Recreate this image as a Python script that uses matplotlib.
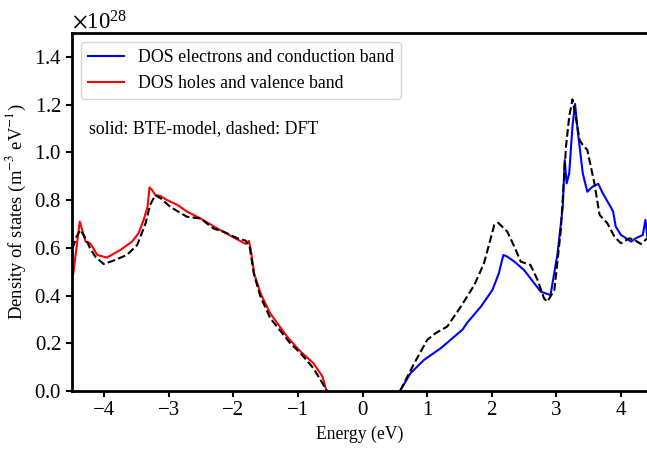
import matplotlib
matplotlib.use("Agg")
import matplotlib.pyplot as plt
from matplotlib.ticker import ScalarFormatter
import numpy as np

plt.rcParams["font.family"] = ["Liberation Serif", "DejaVu Serif"]
plt.rcParams["mathtext.fontset"] = "stix"

# Valence band (holes): BTE model (solid) and DFT (dashed), units of 1e28 m^-3 eV^-1
E_h_bte = [-4.49, -4.38, -4.29, -4.22, -4.17, -4.11, -3.96, -3.75, -3.57, -3.47, -3.39,
           -3.33, -3.30, -3.26, -3.21, -3.13, -3.03, -2.87, -2.72, -2.51, -2.25, -2.00,
           -1.81, -1.76, -1.73, -1.68, -1.58, -1.43, -1.17, -0.96, -0.76, -0.62, -0.56]
D_h_bte = [0.472, 0.710, 0.626, 0.619, 0.598, 0.570, 0.559, 0.591, 0.626, 0.661, 0.717,
           0.772, 0.853, 0.842, 0.821, 0.817, 0.800, 0.780, 0.752, 0.723, 0.681, 0.644,
           0.616, 0.629, 0.591, 0.493, 0.409, 0.325, 0.228, 0.165, 0.116, 0.060, 0.0]

E_h_dft = [-4.49, -4.43, -4.37, -4.29, -4.22, -4.14, -4.01, -3.86, -3.65, -3.49, -3.36,
           -3.29, -3.21, -3.13, -2.98, -2.72, -2.51, -2.31, -2.15, -1.94, -1.81, -1.75,
           -1.68, -1.58, -1.43, -1.12, -0.96, -0.76, -0.55]
D_h_dft = [0.598, 0.647, 0.675, 0.640, 0.598, 0.563, 0.532, 0.546, 0.570, 0.612, 0.703,
           0.780, 0.821, 0.808, 0.772, 0.730, 0.723, 0.681, 0.667, 0.640, 0.630, 0.605,
           0.486, 0.395, 0.305, 0.200, 0.158, 0.095, 0.0]

# Conduction band (electrons)
E_e_bte = [0.58, 0.74, 0.95, 1.21, 1.55, 1.62, 1.83, 2.01, 2.11, 2.18, 2.24, 2.35, 2.50,
           2.66, 2.76, 2.91, 3.02, 3.10, 3.13, 3.16, 3.20, 3.25, 3.29, 3.33, 3.41, 3.48,
           3.56, 3.65, 3.72, 3.84, 3.88, 3.92, 4.00, 4.16, 4.23, 4.34, 4.38, 4.41]
D_e_bte = [0.0, 0.074, 0.130, 0.179, 0.258, 0.286, 0.353, 0.423, 0.493, 0.570, 0.563,
           0.542, 0.507, 0.451, 0.416, 0.402, 0.577, 0.772, 0.968, 0.870, 0.912, 1.108,
           1.203, 1.094, 0.912, 0.835, 0.856, 0.868, 0.828, 0.772, 0.752, 0.689, 0.654,
           0.626, 0.640, 0.654, 0.717, 0.647]

E_e_dft = [0.58, 0.80, 1.00, 1.13, 1.31, 1.52, 1.73, 1.88, 2.04, 2.10, 2.24, 2.35, 2.45,
           2.60, 2.71, 2.81, 2.86, 2.97, 3.07, 3.15, 3.20, 3.25, 3.30, 3.36, 3.41, 3.48,
           3.59, 3.67, 3.79, 3.90, 4.00, 4.13, 4.21, 4.31, 4.41]
D_e_dft = [0.0, 0.116, 0.214, 0.242, 0.270, 0.353, 0.444, 0.535, 0.696, 0.705, 0.668,
           0.605, 0.542, 0.528, 0.465, 0.388, 0.374, 0.423, 0.675, 1.024, 1.150, 1.222,
           1.150, 1.052, 1.031, 1.010, 0.870, 0.738, 0.703, 0.647, 0.619, 0.640, 0.633,
           0.616, 0.640]

scale = 1e28

fig = plt.figure(figsize=(6.47, 4.49), dpi=100)
ax = fig.add_axes([72 / 647, 58 / 449, 576 / 647, 358 / 449])

ax.plot(E_e_bte, np.array(D_e_bte) * scale, color="blue", lw=1.5,
        label="DOS electrons and conduction band")
ax.plot(E_h_bte, np.array(D_h_bte) * scale, color="red", lw=1.5,
        label="DOS holes and valence band")
ax.plot(E_h_dft, np.array(D_h_dft) * scale, color="black", lw=1.5, ls="--")
ax.plot(E_e_dft, np.array(D_e_dft) * scale, color="black", lw=1.5, ls="--")

ax.set_xlim(-4.5, 4.42)
ax.set_ylim(0, 1.5e28)
ax.set_xticks([-4, -3, -2, -1, 0, 1, 2, 3, 4])
ax.set_yticks(np.arange(0, 1.41, 0.2) * scale)

fmt = ScalarFormatter(useMathText=True)
fmt.set_powerlimits((0, 0))
ax.yaxis.set_major_formatter(fmt)

ax.tick_params(labelsize=15, width=1.5, length=4)
ax.yaxis.get_offset_text().set_fontsize(16.5)
for s in ax.spines.values():
    s.set_linewidth(2)

ax.set_xlabel("Energy (eV)", fontsize=12.7)
ax.set_ylabel(r"Density of states (m$^{-3}$ eV$^{-1}$)", fontsize=13.4)

ax.legend(loc="upper left", fontsize=12.8, framealpha=0.8)
ax.text(0.03, 0.72, "solid: BTE-model, dashed: DFT", transform=ax.transAxes,
        fontsize=12.8)

fig.savefig("out.png", dpi=100)
